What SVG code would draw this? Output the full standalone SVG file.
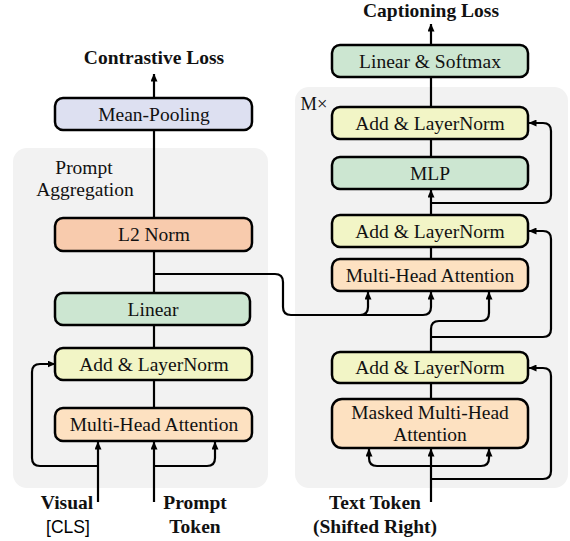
<svg xmlns="http://www.w3.org/2000/svg" width="570" height="541" viewBox="0 0 570 541">
<defs>
<marker id="ah" markerWidth="8" markerHeight="7" refX="7.5" refY="3.5" orient="auto" markerUnits="userSpaceOnUse">
<path d="M0,0 L8,3.5 L0,7 z" fill="#000"/>
</marker>
<style>
.panel{fill:#f2f2f2;stroke:none}
.box{stroke:#000;stroke-width:2.5}
.t{font-family:"Liberation Serif","Times New Roman",serif;font-size:19.5px;fill:#111;text-anchor:middle}
.b{font-family:"Liberation Serif","Times New Roman",serif;font-size:19.5px;font-weight:bold;fill:#111;text-anchor:middle}
.s{font-family:"Liberation Sans",Arial,sans-serif;font-size:17.5px;fill:#000;text-anchor:middle}
.c{fill:none;stroke:#000;stroke-width:2.2}
.a{fill:none;stroke:#000;stroke-width:2.2;marker-end:url(#ah)}
.purple{fill:#dde0f1}.salmon{fill:#f8cbad}.green{fill:#cce6d1}.yellow{fill:#f2f5c6}.peach{fill:#fde1c1}
</style>
</defs>
<rect class="panel" x="13" y="148" width="255" height="340" rx="14"/>
<rect class="panel" x="295" y="87" width="273" height="401" rx="14"/>
<text class="t" x="84" y="174">Prompt</text>
<text class="t" x="85" y="196">Aggregation</text>
<text class="t" x="314" y="110" style="font-size:18.5px">M×</text>

<g id="connectors">
<path class="a" d="M154,98 V74"/>
<path class="c" d="M154,130 V218"/>
<path class="c" d="M154,251 V293"/>
<path class="c" d="M154,325 V348"/>
<path class="c" d="M154,380 V408"/>
<path class="a" d="M98,502 V442"/>
<path class="a" d="M154,502 V442"/>
<path class="a" d="M154,466 H207 Q215,466 215,458 V442"/>
<path class="a" d="M98,466 H40 Q32,466 32,458 V372 Q32,364 40,364 H55"/>
<path class="a" d="M154,274 H275 Q283,274 283,282 V307 Q283,315 291,315 H360 Q368,315 368,307 V292"/>
<path class="a" d="M360,315 H423 Q431,315 431,307 V292"/>
<path class="a" d="M431,45 V24"/>
<path class="c" d="M431,77 V107"/>
<path class="c" d="M431,139 V157"/>
<path class="a" d="M431,215 V190"/>
<path class="c" d="M431,247 V259"/>
<path class="a" d="M431,352 V329 Q431,321 439,321 H481 Q489,321 489,313 V292"/>
<path class="c" d="M431,383 V399"/>
<path class="a" d="M431,203 H543 Q551,203 551,195 V131 Q551,123 543,123 H529"/>
<path class="a" d="M431,337 H543 Q551,337 551,329 V239 Q551,231 543,231 H529"/>
<path class="a" d="M431,479 H543 Q551,479 551,471 V376 Q551,368 543,368 H529"/>
<path class="a" d="M431,502 V449"/>
<path class="a" d="M431,466 H377 Q369,466 369,458 V449"/>
<path class="a" d="M431,466 H481 Q489,466 489,458 V449"/>
</g>

<g id="contrastive-loss"><text class="b" x="154" y="64">Contrastive Loss</text></g>
<g id="mean-pooling"><rect class="box purple" x="55" y="98" width="197" height="32" rx="8"/><text class="t" x="154" y="121">Mean-Pooling</text></g>
<g id="l2-norm"><rect class="box salmon" x="55" y="218" width="197" height="33" rx="8"/><text class="t" x="154" y="241">L2 Norm</text></g>
<g id="linear-left"><rect class="box green" x="55" y="293" width="195" height="32" rx="8"/><text class="t" x="153" y="316">Linear</text></g>
<g id="addnorm-left"><rect class="box yellow" x="55" y="348" width="197" height="32" rx="8"/><text class="t" x="154" y="371">Add &amp; LayerNorm</text></g>
<g id="mha-left"><rect class="box peach" x="55" y="408" width="197" height="33" rx="8"/><text class="t" x="154" y="431">Multi-Head Attention</text></g>
<g id="visual-cls"><text class="b" x="67" y="509">Visual</text><text class="s" x="68" y="533">[CLS]</text></g>
<g id="prompt-token"><text class="b" x="195" y="509">Prompt</text><text class="b" x="195" y="533">Token</text></g>

<g id="captioning-loss"><text class="b" x="431" y="17">Captioning Loss</text></g>
<g id="linear-softmax"><rect class="box green" x="332" y="45" width="196" height="32" rx="8"/><text class="t" x="430" y="68">Linear &amp; Softmax</text></g>
<g id="addnorm-top"><rect class="box yellow" x="332" y="107" width="196" height="32" rx="8"/><text class="t" x="430" y="130">Add &amp; LayerNorm</text></g>
<g id="mlp"><rect class="box green" x="332" y="157" width="196" height="32" rx="8"/><text class="t" x="430" y="180">MLP</text></g>
<g id="addnorm-mid"><rect class="box yellow" x="332" y="215" width="196" height="32" rx="8"/><text class="t" x="430" y="238">Add &amp; LayerNorm</text></g>
<g id="mha-right"><rect class="box peach" x="332" y="259" width="196" height="32" rx="8"/><text class="t" x="430" y="282">Multi-Head Attention</text></g>
<g id="addnorm-bottom"><rect class="box yellow" x="332" y="352" width="196" height="31" rx="8"/><text class="t" x="430" y="374">Add &amp; LayerNorm</text></g>
<g id="masked-mha"><rect class="box peach" x="332" y="399" width="196" height="49" rx="10"/><text class="t" x="430" y="419">Masked Multi-Head</text><text class="t" x="430" y="441">Attention</text></g>
<g id="text-token"><text class="b" x="375" y="509">Text Token</text><text class="b" x="375" y="533">(Shifted Right)</text></g>
</svg>
